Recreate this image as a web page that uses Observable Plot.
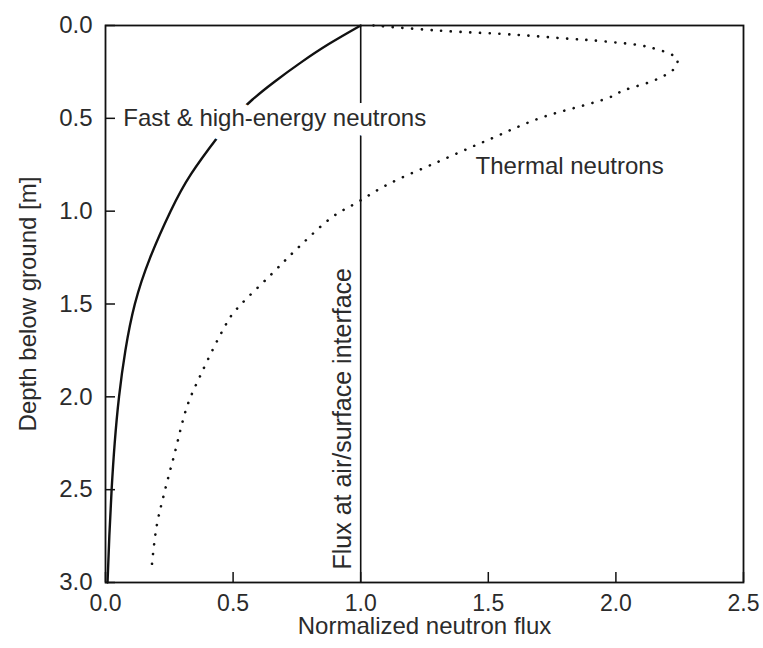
<!DOCTYPE html>
<html>
<head>
<meta charset="utf-8">
<script src="https://cdn.jsdelivr.net/npm/d3@7"></script>
<script src="https://cdn.jsdelivr.net/npm/@observablehq/plot@0.6"></script>
<style>
  html, body { margin: 0; padding: 0; background: #fff; }
</style>
</head>
<body>
<div id="chart"></div>
<script>
// Fast & high-energy neutrons (solid line): depth [m] and normalized flux
const fastDepth = [0, 0.1, 0.2, 0.3, 0.4, 0.5, 0.6, 0.8, 1.0, 1.25, 1.5, 1.75, 2.0, 2.25, 2.5, 2.75, 3.0];
const fastFlux  = [1.0, 0.875, 0.765, 0.665, 0.575, 0.5, 0.44, 0.335, 0.255, 0.175, 0.115, 0.078, 0.053, 0.036, 0.024, 0.015, 0.008];

// Thermal neutrons (dotted line)
const thermDepth = [0.0, 0.027, 0.05, 0.07, 0.085, 0.12, 0.18, 0.23, 0.29, 0.35, 0.39, 0.5, 0.61, 0.73, 0.86, 0.95, 1.03, 1.19, 1.34, 1.55, 1.64, 1.89, 2.05, 2.31, 2.52, 2.7, 2.93];
const thermFlux  = [1.05, 1.3, 1.61, 1.8, 1.95, 2.14, 2.24, 2.23, 2.16, 2.03, 1.97, 1.7, 1.51, 1.31, 1.1, 0.99, 0.89, 0.76, 0.65, 0.5, 0.46, 0.37, 0.32, 0.27, 0.23, 0.2, 0.18];

// Axis ticks
const xTicks = [0, 0.5, 1.0, 1.5, 2.0, 2.5];
const yTicks = [0, 0.5, 1.0, 1.5, 2.0, 2.5, 3.0];

// Reference line (flux at air/surface interface)
const interfaceFlux = [1.0];

// Text labels
const xLabel = "Normalized neutron flux";
const yLabel = "Depth below ground [m]";
const labels = [
  {x: 0.07, y: 0.5, text: "Fast & high-energy neutrons"},
  {x: 1.45, y: 0.76, text: "Thermal neutrons"}
];
const interfaceLabel = [{x: 1.0, y: 2.93, text: "Flux at air/surface interface"}];

const fast = fastDepth.map((d, i) => ({depth: d, flux: fastFlux[i]}));
const thermal = thermDepth.map((d, i) => ({depth: d, flux: thermFlux[i]}));

const W = 763, H = 648, ML = 105, MR = 20, MT = 25, MB = 66;
const innerW = W - ML - MR, innerH = H - MT - MB, tickLen = 10;

const font = "'Liberation Sans', Arial, Helvetica, sans-serif";
const textColor = "#2b2b2b";

const chart = Plot.plot({
  width: W,
  height: H,
  marginLeft: ML,
  marginRight: MR,
  marginTop: MT,
  marginBottom: MB,
  style: {fontFamily: font, fontSize: "24px", color: textColor, background: "#fff"},
  x: {domain: [0, 2.5]},
  y: {domain: [0, 3], reverse: true},
  marks: [
    Plot.line(thermal, {x: "flux", y: "depth", curve: "catmull-rom", stroke: "#111", strokeWidth: 2.6, strokeLinecap: "round", strokeDasharray: "0.1 9.6"}),
    Plot.line(fast, {x: "flux", y: "depth", curve: "natural", stroke: "#111", strokeWidth: 2.4}),
    Plot.ruleX(interfaceFlux, {x: d => d, stroke: "#111", strokeWidth: 1.6}),
    Plot.text(labels, {x: "x", y: "y", text: "text", textAnchor: "start", lineAnchor: "middle", fill: textColor, stroke: "white", strokeWidth: 20, fontSize: 24}),
    Plot.text(interfaceLabel, {x: "x", y: "y", text: "text", rotate: -90, textAnchor: "start", lineAnchor: "bottom", dx: -10, fill: textColor, fontSize: 25}),
    // inward ticks
    Plot.tickX(xTicks, {x: d => d, insetTop: innerH - tickLen, stroke: "#111", strokeWidth: 1.5}),
    Plot.tickY(yTicks, {y: d => d, insetRight: innerW - tickLen, stroke: "#111", strokeWidth: 1.5}),
    Plot.axisX({ticks: xTicks, tickFormat: d3.format(".1f"), tickSize: 0, tickPadding: 12, label: null, fill: textColor, fontSize: 23}),
    Plot.axisY({ticks: yTicks, tickFormat: d3.format(".1f"), tickSize: 0, tickPadding: 13, label: null, fill: textColor, fontSize: 24}),
    Plot.text([xLabel], {frameAnchor: "bottom", text: d => d, dy: 51, lineAnchor: "bottom", textAnchor: "middle", fill: textColor, fontSize: 24}),
    Plot.text([yLabel], {frameAnchor: "left", text: d => d, dx: -70, rotate: -90, lineAnchor: "bottom", textAnchor: "middle", fill: textColor, fontSize: 24}),
    Plot.frame({stroke: "#111", strokeWidth: 1.8})
  ]
});

document.getElementById("chart").appendChild(chart);
</script>
</body>
</html>
